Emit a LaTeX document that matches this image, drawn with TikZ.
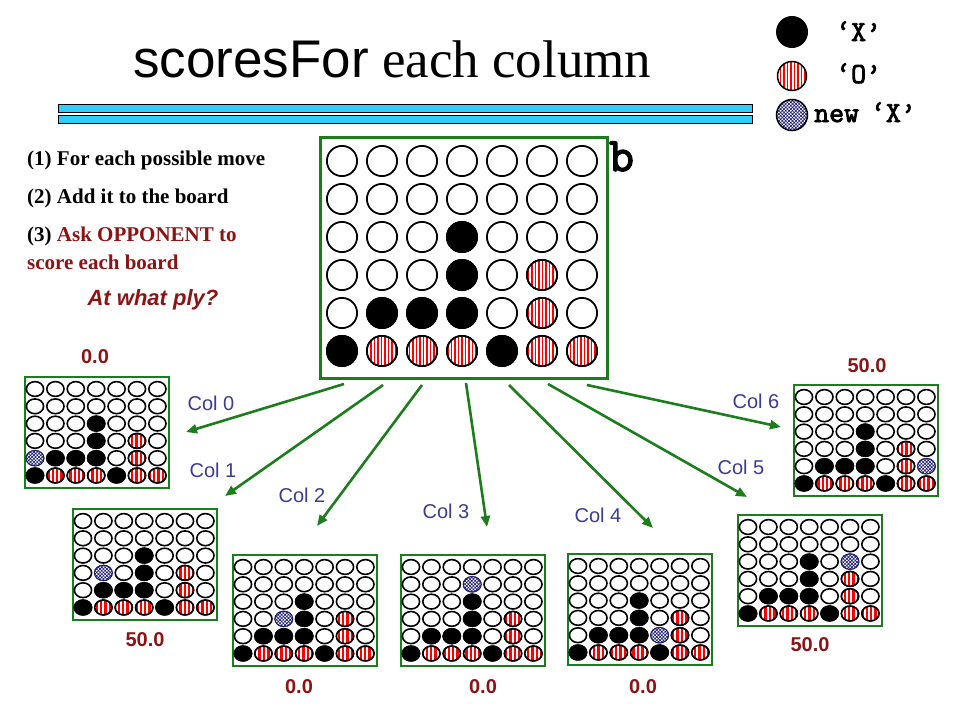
\documentclass[tikz,border=0pt]{standalone}
\usepackage{fontspec}
\setmainfont{Liberation Serif}
\setsansfont{Liberation Sans}
\newfontfamily\courbold[FakeBold=3]{Latin Modern Mono}
\usetikzlibrary{patterns.meta,arrows.meta}
\definecolor{bgreen}{RGB}{28,125,28}
\definecolor{darkred}{RGB}{140,20,20}
\definecolor{colblue}{RGB}{60,60,150}
\definecolor{barblue}{RGB}{51,204,255}
\definecolor{navyx}{RGB}{30,30,120}
\def\Xlist{0/0,4/0,1/1,2/1,3/1,3/2,3/3}
\def\Olist{1/0,2/0,3/0,5/0,6/0,5/1,5/2}
\tikzset{
  emptyc/.style={draw=black,fill=white},
  xc/.style={draw=black,fill=black},
  oc/.style={draw=black,preaction={fill=white},pattern={Lines[angle=90,distance=3.5pt,line width=1.7pt]},pattern color=red},
  ocs/.style={draw=black,preaction={fill=white},pattern={Lines[angle=90,distance=4.4pt,line width=2.3pt]},pattern color=red},
  newx/.style={draw=navyx,preaction={fill=white},pattern={Hatch[angle=45,distance=2.4pt,line width=0.65pt]},pattern color=navyx},
  slw/.style={line width=1.6pt},
  mlw/.style={line width=1.8pt},
  sboard/.style={draw=bgreen,line width=2.4pt,minimum width=144pt,minimum height=111pt,inner sep=0pt},
  mboard/.style={draw=bgreen,line width=3pt,minimum width=287pt,minimum height=241pt,inner sep=0pt},
  mv/.style={draw=bgreen,line width=2.6pt,-{Triangle[length=11pt,width=9pt]}},
  collabel/.style={text=colblue,font=\sffamily\fontsize{20}{24}\selectfont,inner sep=0pt},
  score/.style={text=darkred,font=\sffamily\bfseries\fontsize{20}{24}\selectfont,inner sep=0pt},
  lefttext/.style={font=\rmfamily\bfseries\fontsize{21}{24}\selectfont,inner sep=0pt,anchor=west},
  legtext/.style={font=\courbold\fontsize{29}{32}\selectfont,inner sep=0pt,anchor=base west},
}
\newcommand\cfboard[5]{%
  \node[sboard,anchor=north west] (#1) at (#2,#3) {};
  \foreach \c in {0,...,6}{\foreach \r in {0,...,5}{%
    \draw[emptyc,slw] ({#2+11+20.4*\c},{#3+13+17.3*(5-\r)}) ellipse[x radius=8.6pt,y radius=7.4pt];}}
  \foreach \c/\r in \Xlist{\draw[xc,slw] ({#2+11+20.4*\c},{#3+13+17.3*(5-\r)}) ellipse[x radius=8.6pt,y radius=7.4pt];}
  \foreach \c/\r in \Olist{\draw[ocs,slw] ({#2+11+20.4*\c},{#3+13+17.3*(5-\r)}) ellipse[x radius=8.6pt,y radius=7.4pt];}
  \draw[newx,line width=1pt] ({#2+11+20.4*#4},{#3+13+17.3*(5-#5)}) ellipse[x radius=8.9pt,y radius=7.7pt];
}
\begin{document}
\begin{tikzpicture}[x=1pt,y=-1pt]
\useasboundingbox[fill=white] (0,0) rectangle (960,720);
% title
\node[inner sep=0pt,anchor=base west] (title) at (133,77)
  {{\sffamily\fontsize{53}{60}\selectfont scoresFor}{\rmfamily\fontsize{53}{60}\selectfont\ each column}};
\draw[fill=barblue,line width=0.8pt] (58,104.5) rectangle (752,112.5);
\draw[fill=barblue,line width=0.8pt] (58,115.5) rectangle (752,123.5);
% legend
\fill[black] (792,32) circle[radius=16pt];
\draw[oc,line width=1.5pt] (792,76) circle[radius=14.5pt];
\draw[newx,draw=black,line width=1.5pt] (792,115) circle[radius=15.5pt];
\node[legtext] (lx) at (836,41) {‘X’};
\node[legtext] (lo) at (836,83) {‘O’};
\node[legtext] (ln) at (814,122) {new\kern12pt‘X’};
% left text
\node[lefttext] (t1) at (27,160) {(1) For each possible move};
\node[lefttext] (t2) at (27,198) {(2) Add it to the board};
\node[lefttext] (t3) at (27,236) {(3) \textcolor{darkred}{Ask OPPONENT to}};
\node[lefttext,text=darkred] (t4) at (27,262) {score each board};
\node[text=darkred,font=\sffamily\bfseries\itshape\fontsize{22}{24}\selectfont,inner sep=0pt] (ply) at (153,300) {At what ply?};
% main board
\node[mboard,anchor=north west] (b) at (319,136) {};
\foreach \c in {0,...,6}{\foreach \r in {0,...,5}{%
  \draw[emptyc,mlw] ({342+40*\c},{161+38*(5-\r)}) circle[radius=15.1pt];}}
\foreach \c/\r in \Xlist{\draw[xc,mlw] ({342+40*\c},{161+38*(5-\r)}) circle[radius=15.1pt];}
\foreach \c/\r in \Olist{\draw[oc,mlw] ({342+40*\c},{161+38*(5-\r)}) circle[radius=15.1pt];}
\node[font=\courbold\fontsize{48}{52}\selectfont,inner sep=0pt,anchor=base west] (blabel) at (609,171) {b};
% small boards
\cfboard{B0}{24}{376}{0}{1}
\cfboard{B1}{72}{508}{1}{2}
\cfboard{B2}{232}{554}{2}{2}
\cfboard{B3}{400}{554}{3}{4}
\cfboard{B4}{567}{553}{4}{1}
\cfboard{B5}{737}{514}{5}{3}
\cfboard{B6}{793}{384}{6}{1}
% scores
\node[score] (s0l) at (95,357) {0.0};
\node[score] (s1l) at (145,640) {50.0};
\node[score] (s2l) at (299,687) {0.0};
\node[score] (s3l) at (483,687) {0.0};
\node[score] (s4l) at (643,687) {0.0};
\node[score] (s5l) at (810,645) {50.0};
\node[score] (s6l) at (867,366) {50.0};
% arrows
\coordinate (a0) at (344,384); \coordinate (e0) at (186,432);
\coordinate (a1) at (383,385); \coordinate (e1) at (225,496);
\coordinate (a2) at (422,385); \coordinate (e2) at (317,526);
\coordinate (a3) at (466,383); \coordinate (e3) at (487,527);
\coordinate (a4) at (509,385); \coordinate (e4) at (653,528);
\coordinate (a5) at (548,384); \coordinate (e5) at (747,497);
\coordinate (a6) at (587,385); \coordinate (e6) at (781,427);
\foreach \i in {0,...,6}{\draw[mv] (a\i) -- (e\i);}
% column labels
\node[collabel] (c0) at (211,403) {Col 0};
\node[collabel] (c1) at (213,470) {Col 1};
\node[collabel] (c2) at (302,495) {Col 2};
\node[collabel] (c3) at (446,511) {Col 3};
\node[collabel] (c4) at (598,515) {Col 4};
\node[collabel] (c5) at (741,467) {Col 5};
\node[collabel] (c6) at (756,401) {Col 6};
\end{tikzpicture}
\end{document}
